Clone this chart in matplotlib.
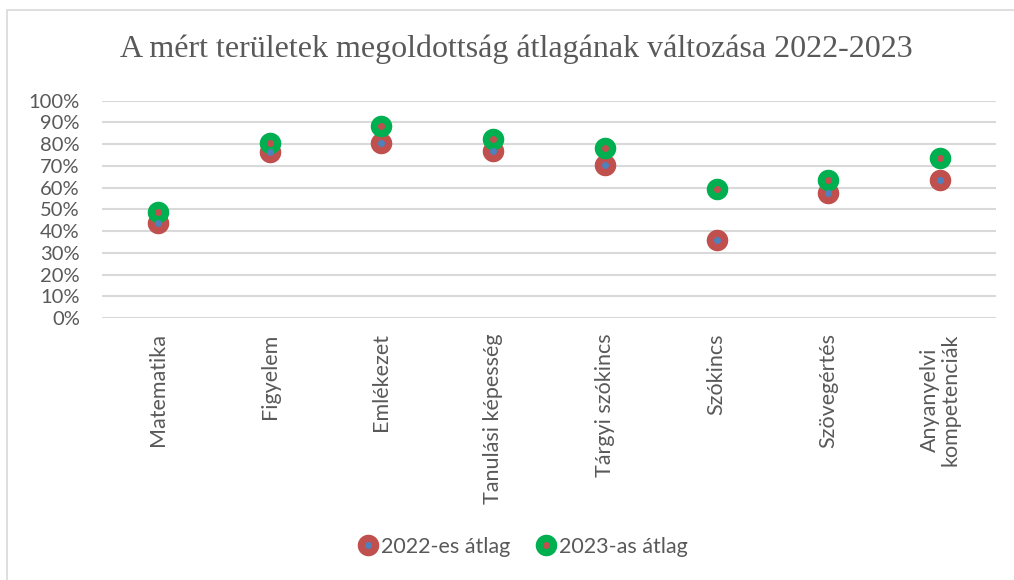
import matplotlib
matplotlib.use('Agg')
import matplotlib.pyplot as plt
from matplotlib.lines import Line2D
from matplotlib.patches import Rectangle
from matplotlib.ticker import PercentFormatter

# Adatok
categories = ['Matematika', 'Figyelem', 'Emlékezet', 'Tanulási képesség',
              'Tárgyi szókincs', 'Szókincs', 'Szövegértés',
              'Anyanyelvi\nkompetenciák']
avg_2022 = [0.436, 0.765, 0.807, 0.770, 0.703, 0.358, 0.577, 0.634]
avg_2023 = [0.486, 0.807, 0.885, 0.823, 0.781, 0.592, 0.636, 0.735]

red = '#C0504D'
green = '#00B050'
blue = '#4F81BD'
gray = '#595959'
grid = '#D9D9D9'

plt.rcParams['font.family'] = ['Lato', 'DejaVu Sans']

fig = plt.figure(figsize=(10.14, 5.8), dpi=100)
ax = fig.add_axes([102 / 1014, 1 - 318 / 580, 894 / 1014, (318 - 100.7) / 580])

x = list(range(len(categories)))

ax.plot(x, avg_2022, 'o', color=red, markersize=14.5, zorder=3)
ax.plot(x, avg_2023, 'o', color=green, markersize=14.5, zorder=4)
ax.plot(x, avg_2022, 'o', color=blue, markersize=4, zorder=5)
ax.plot(x, avg_2023, 'o', color=red, markersize=4, zorder=6)

ax.set_xlim(-0.5, len(categories) - 0.5)
ax.set_ylim(0, 1)
ax.set_yticks([i / 10 for i in range(11)])
ax.yaxis.set_major_formatter(PercentFormatter(1.0, decimals=0))
ax.grid(axis='y', color=grid, linewidth=1.5)
ax.set_axisbelow(True)
for s in ax.spines.values():
    s.set_visible(False)

ax.set_xticks(x)
ax.set_xticklabels(categories, rotation=90, va='top', ha='center',
                   fontsize=15.5, color=gray, linespacing=1.0)
ax.tick_params(axis='x', length=0, pad=11)
ax.tick_params(axis='y', length=0, pad=16, labelsize=14.5, labelcolor=gray)

# Cím
fig.text(0.509, 1 - 49 / 580, 'A mért területek megoldottság átlagának változása 2022-2023',
         ha='center', va='center', fontsize=23, color=gray,
         family=['Liberation Serif', 'DejaVu Serif'])

# Jelmagyarázat
h22 = (Line2D([], [], marker='o', ls='', color=red, markersize=14.5),
       Line2D([], [], marker='o', ls='', color=blue, markersize=4))
h23 = (Line2D([], [], marker='o', ls='', color=green, markersize=14.5),
       Line2D([], [], marker='o', ls='', color=red, markersize=4))
fig.legend([h22, h23], ['2022-es átlag', '2023-as átlag'],
           loc='center', bbox_to_anchor=(0.516, 1 - 547 / 580), ncol=2,
           frameon=False, fontsize=15.5, labelcolor=gray, handlelength=0.9,
           handletextpad=0.15, columnspacing=1.2)

# Keret
fig.patches.append(Rectangle((7 / 1014, -0.1), 1.2, 1 - 10 / 580 + 0.1,
                             transform=fig.transFigure, fill=False,
                             edgecolor=grid, linewidth=1.2))

fig.savefig('out.png', dpi=100, facecolor='white')
